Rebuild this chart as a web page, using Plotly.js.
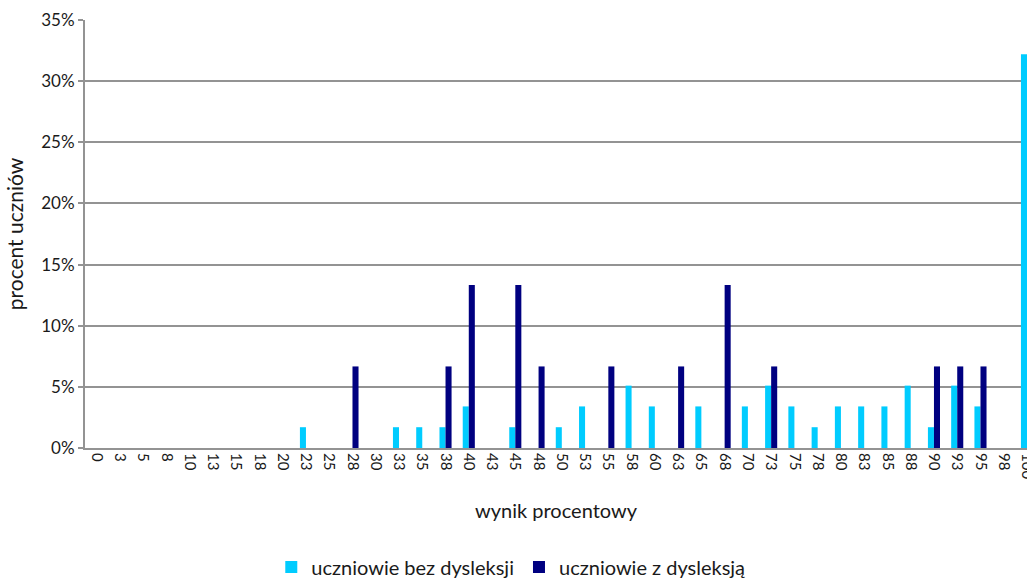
<!DOCTYPE html>
<html>
<head>
<meta charset="utf-8">
<script src="https://cdn.plot.ly/plotly-3.0.1.min.js"></script>
<style>html,body{margin:0;padding:0;overflow:hidden;background:#fff;}</style>
</head>
<body>
<div id="chart" style="width:1027px;height:580px;"></div>
<script>
const categories = ["0","3","5","8","10","13","15","18","20","23","25","28","30","33","35","38","40","43","45","48","50","53","55","58","60","63","65","68","70","73","75","78","80","83","85","88","90","93","95","98","100"];
const bezDysleksji = [0,0,0,0,0,0,0,0,0,1.7,0,0,0,1.7,1.7,1.7,3.4,0,1.7,0,1.7,3.4,0,5.1,3.4,0,3.4,0,3.4,5.1,3.4,1.7,3.4,3.4,3.4,5.1,1.7,5.1,3.4,0,32.2];
const zDysleksja = [0,0,0,0,0,0,0,0,0,0,0,6.67,0,0,0,6.67,13.33,0,13.33,6.67,0,0,6.67,0,0,6.67,0,13.33,0,6.67,0,0,0,0,0,0,6.67,6.67,6.67,0,0];
const seriesNames = ["uczniowie bez dysleksji", "uczniowie z dysleksją"];

const font = "Lato, 'Open Sans', sans-serif";
const txt = '#1a1a1a';
const grid = '#939393';
const traces = [
  {type:'bar', name:seriesNames[0], x:categories, y:bezDysleksji.map(v=>v/100), marker:{color:'#00CCFF'}},
  {type:'bar', name:seriesNames[1], x:categories, y:zDysleksja.map(v=>v/100), marker:{color:'#000080'}}
];
const layout = {
  width:1027, height:580,
  margin:{l:85, r:0, t:20, b:132, autoexpand:false},
  paper_bgcolor:'#fff', plot_bgcolor:'#fff',
  font:{family:font, color:txt, size:15},
  barmode:'group', bargap:0.48, bargroupgap:0,
  showlegend:true,
  legend:{orientation:'h', x:0.452, xanchor:'center', y:-0.278, yanchor:'middle', itemwidth:30,
          font:{size:20, family:font, color:txt}},
  xaxis:{type:'category', range:[-0.5, 40.0], tickangle:90, tickfont:{size:15, family:font, color:txt},
         automargin:false,
         showline:true, linecolor:grid, linewidth:2, ticks:'', showgrid:false,
         title:{text:'wynik procentowy', font:{size:20, family:font, color:txt}, standoff:26}},
  yaxis:{range:[0,0.35], dtick:0.05, tickformat:'.0%', showline:true, linecolor:grid, linewidth:2,
         automargin:false,
         ticks:'outside', ticklen:5, tickwidth:2, tickcolor:grid, gridcolor:grid, gridwidth:2,
         zeroline:false, tickfont:{size:17, family:font, color:txt},
         title:{text:'procent uczniów', font:{size:21, family:font, color:txt}, standoff:12}}
};
Plotly.newPlot('chart', traces, layout, {displayModeBar:false, staticPlot:true});
</script>
</body>
</html>
